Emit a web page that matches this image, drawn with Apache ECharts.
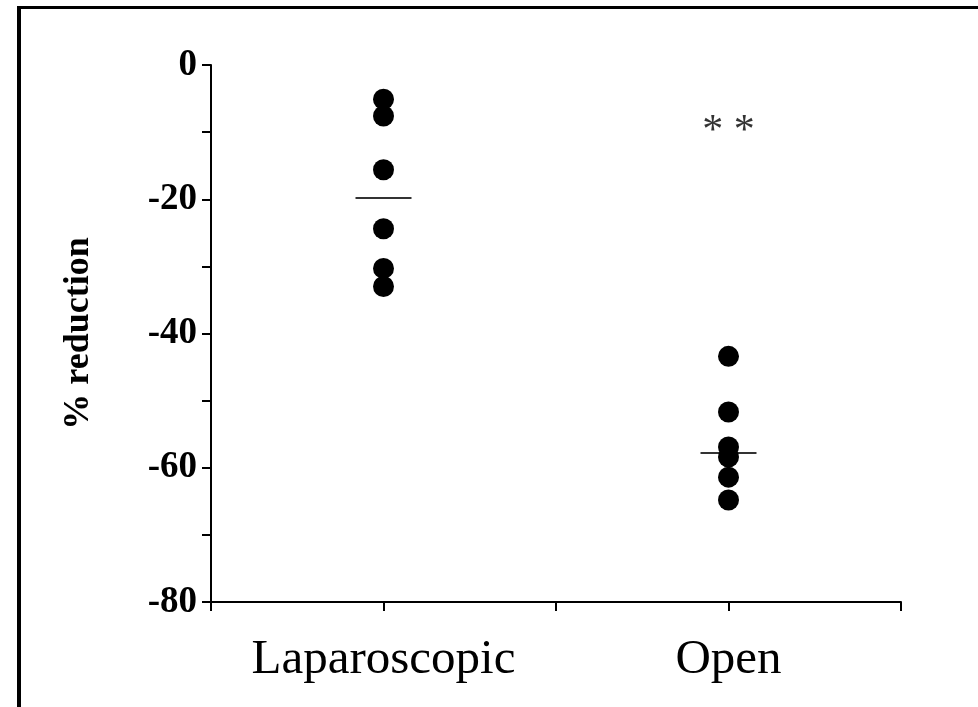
<!DOCTYPE html>
<html>
<head>
<meta charset="utf-8">
<script src="https://cdn.jsdelivr.net/npm/echarts@6/dist/echarts.min.js"></script>
<style>
  html, body { margin: 0; padding: 0; background: #fff; }
  #frame {
    position: absolute; left: 17px; top: 6px; right: 0; bottom: 0;
    border-left: 4px solid #000; border-top: 3px solid #000;
  }
  #chart { position: absolute; left: 0; top: 0; width: 978px; height: 707px; }
</style>
</head>
<body>
<div id="frame"></div>
<div id="chart"></div>
<script>
// groups sit at x = 1 and x = 3 on a 0..4 axis
const groups = ['Laparoscopic', 'Open']
const groupPos = [1, 3]
const lapValues = [-5.1, -7.6, -15.6, -24.4, -30.3, -33.0]
const openValues = [-43.4, -51.7, -56.9, -58.4, -61.4, -64.8]
const meanValues = [-19.8, -57.8]
const yTicks = [0, -20, -40, -60, -80]
const signif = { label: '* *', x: 3, y: -10 }

let serif = '"Liberation Serif", "DejaVu Serif", serif'
let myChart = echarts.init(document.getElementById('chart'), null, { renderer: 'canvas' })

let points = []
lapValues.forEach(v => points.push([groupPos[0], v]))
openValues.forEach(v => points.push([groupPos[1], v]))

myChart.setOption({
  animation: false,
  grid: { left: 211, top: 65, right: 77, bottom: 105 },
  xAxis: {
    type: 'value',
    position: 'bottom',
    min: 0,
    max: 4,
    interval: 1,
    splitLine: { show: false },
    axisLine: { onZero: false, lineStyle: { color: '#000', width: 2 } },
    axisTick: { show: true, inside: false, length: 9, lineStyle: { color: '#000', width: 2 } },
    axisLabel: {
      margin: 34,
      color: '#000',
      fontFamily: serif,
      fontSize: 49,
      formatter: (v) => {
        let i = groupPos.indexOf(v)
        return i >= 0 ? groups[i] : ''
      }
    }
  },
  yAxis: {
    type: 'value',
    min: -80,
    max: 0,
    interval: 10,
    splitLine: { show: false },
    axisLine: { lineStyle: { color: '#000', width: 2 } },
    axisTick: { show: true, length: 9, lineStyle: { color: '#000', width: 2 } },
    axisLabel: {
      margin: 14,
      color: '#000',
      fontFamily: serif,
      fontWeight: 'bold',
      fontSize: 37,
      formatter: (v) => yTicks.indexOf(v) >= 0 ? String(v) : ''
    },
    name: '% reduction',
    nameLocation: 'middle',
    nameGap: 114,
    nameRotate: 90,
    nameTextStyle: {
      color: '#000',
      fontFamily: serif,
      fontWeight: 'bold',
      fontSize: 36
    }
  },
  series: [
    {
      type: 'scatter',
      symbol: 'circle',
      symbolSize: 21,
      itemStyle: { color: '#000', opacity: 1 },
      data: points
    },
    {
      type: 'scatter',
      symbol: 'rect',
      symbolSize: [56, 2],
      itemStyle: { color: '#000' },
      data: meanValues.map((v, i) => [groupPos[i], v])
    },
    {
      type: 'scatter',
      symbolSize: 0,
      label: {
        show: true,
        position: 'inside',
        formatter: signif.label,
        color: '#000',
        fontFamily: serif,
        fontSize: 42
      },
      data: [[signif.x, signif.y]]
    }
  ]
})
</script>
</body>
</html>
